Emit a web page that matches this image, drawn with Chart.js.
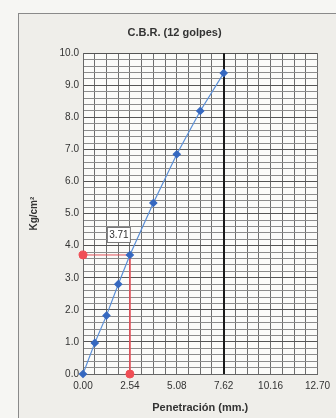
<!DOCTYPE html>
<html>
<head>
<meta charset="utf-8">
<script src="https://cdn.jsdelivr.net/npm/chart.js@4"></script>
<style>
  body { margin: 0; width: 336px; height: 418px; overflow: hidden; background: #f6f6f3; position: relative; }
  #marco { position: absolute; left: 18px; top: 13px; width: 400px; height: 500px; border: 1px solid #8a8a8a; background: #efeeea; }
  #cbrChart { position: absolute; left: 0; top: 0; }
</style>
</head>
<body>
<div id="marco"></div>
<canvas id="cbrChart" width="336" height="418"></canvas>
<script>
// curva carga - penetracion (12 golpes)
const penetracion = [0, 0.64, 1.27, 1.91, 2.54, 3.81, 5.08, 6.35, 7.62]
const carga = [0, 0.97, 1.82, 2.8, 3.71, 5.33, 6.85, 8.2, 9.38]

// lectura a 2.54 mm
const lecturaX = [0, 2.54, 2.54]
const lecturaY = [3.71, 3.71, 0]
const valorCBR = "3.71"

const xTicks = [0, 0.635, 1.27, 1.905, 2.54, 3.175, 3.81, 4.445, 5.08, 5.715, 6.35, 6.985, 7.62, 8.255, 8.89, 9.525, 10.16, 10.795, 11.43, 12.065, 12.7]
const yTicks = []
for (let i = 0; i <= 50; i++) yTicks.push(i / 5)

const fuente = "'Liberation Sans', Arial, sans-serif"

const etiquetaPlugin = {
  id: "etiqueta",
  beforeDatasetsDraw(chart) {
    // linea gruesa en 7.62
    const ctx = chart.ctx
    const a = chart.chartArea
    const x = Math.round(chart.scales.x.getPixelForValue(xTicks[12]))
    ctx.save()
    ctx.strokeStyle = "#1a1a1a"
    ctx.lineWidth = 2
    ctx.beginPath()
    ctx.moveTo(x, a.top)
    ctx.lineTo(x, a.bottom)
    ctx.stroke()
    ctx.restore()
  },
  afterDatasetsDraw(chart) {
    const ctx = chart.ctx
    const px = chart.scales.x.getPixelForValue(2.54)
    const py = chart.scales.y.getPixelForValue(3.71)
    ctx.save()
    ctx.fillStyle = "#ffffff"
    ctx.strokeStyle = "#777"
    ctx.lineWidth = 1
    ctx.fillRect(px - 22.5, py - 27.5, 23, 15)
    ctx.strokeRect(px - 22.5, py - 27.5, 23, 15)
    ctx.fillStyle = "#333"
    ctx.font = "10px " + fuente
    ctx.textAlign = "center"
    ctx.textBaseline = "middle"
    ctx.fillText(valorCBR, px - 11, py - 20)
    ctx.restore()
  }
}

const fondoPlugin = {
  id: "fondo",
  beforeDraw(chart) {
    const a = chart.chartArea
    chart.ctx.save()
    chart.ctx.fillStyle = "#fbfbf9"
    chart.ctx.fillRect(a.left, a.top, a.right - a.left, a.bottom - a.top)
    chart.ctx.restore()
  }
}

new Chart(document.getElementById("cbrChart"), {
  type: "scatter",
  data: {
    datasets: [
      {
        data: penetracion.map((x, i) => ({ x: x, y: carga[i] })),
        showLine: true,
        borderColor: "#5b8fd6",
        borderWidth: 1.2,
        backgroundColor: "#3568c0",
        pointBackgroundColor: "#3568c0",
        pointBorderColor: "#3568c0",
        pointStyle: "rectRot",
        pointRadius: 3.5,
        clip: false,
      },
      {
        data: lecturaX.map((x, i) => ({ x: x, y: lecturaY[i] })),
        showLine: true,
        borderColor: "#e0525a",
        borderWidth: 1,
        pointBackgroundColor: "#f04e55",
        pointBorderColor: "#f04e55",
        pointRadius: [4, 0, 4],
        clip: false,
        order: 1,
      },
    ],
  },
  options: {
    responsive: false,
    animation: false,
    devicePixelRatio: 1,
    layout: { padding: { left: 28, right: 15, top: 0, bottom: 0 } },
    plugins: {
      legend: { display: false },
      tooltip: { enabled: false },
      title: {
        display: true,
        text: "C.B.R. (12 golpes)",
        color: "#333",
        font: { family: fuente, size: 11, weight: "bold" },
        padding: { top: 26, bottom: 14 },
      },
    },
    scales: {
      x: {
        type: "linear",
        min: 0,
        max: 12.7,
        afterBuildTicks: (scale) => {
          scale.ticks = xTicks.map((v) => ({ value: v }))
        },
        afterFit: (scale) => {
          scale.height = 44
        },
        ticks: {
          autoSkip: false,
          maxRotation: 0,
          padding: 6,
          color: "#333",
          font: { family: fuente, size: 10 },
          callback: (value, index) => (index % 4 === 0 ? value.toFixed(2) : ""),
        },
        grid: {
          drawTicks: false,
          color: "#6e6e6e",
          lineWidth: 1,
        },
        border: { display: true, color: "#666" },
        title: {
          display: true,
          text: "Penetración (mm.)",
          color: "#333",
          font: { family: fuente, size: 11, weight: "bold" },
          padding: { top: 0, bottom: 3.4 },
        },
      },
      y: {
        type: "linear",
        min: 0,
        max: 10,
        afterBuildTicks: (scale) => {
          scale.ticks = yTicks.map((v) => ({ value: v }))
        },
        afterFit: (scale) => {
          scale.width = 55
        },
        ticks: {
          autoSkip: false,
          padding: 4,
          color: "#333",
          font: { family: fuente, size: 10 },
          callback: (value, index) => (index % 5 === 0 ? value.toFixed(1) : ""),
        },
        grid: {
          drawTicks: false,
          color: (c) => (c.index % 5 === 0 ? "#555" : "#8c8c8c"),
          lineWidth: 1,
        },
        border: { display: true, color: "#666" },
        title: {
          display: true,
          text: "Kg/cm²",
          color: "#333",
          font: { family: fuente, size: 10, weight: "bold" },
          padding: { top: 0, bottom: 0 },
        },
      },
    },
  },
  plugins: [fondoPlugin, etiquetaPlugin],
})
</script>
</body>
</html>
